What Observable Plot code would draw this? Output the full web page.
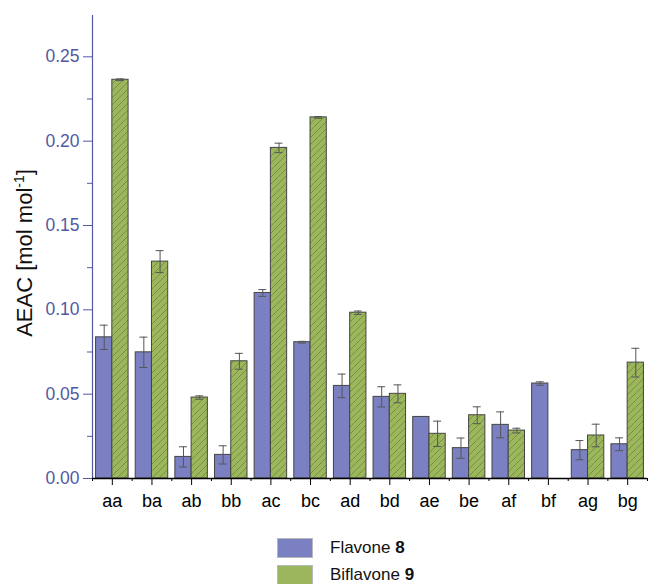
<!DOCTYPE html>
<html>
<head>
<meta charset="utf-8">
<script src="https://cdn.jsdelivr.net/npm/d3@7"></script>
<script src="https://cdn.jsdelivr.net/npm/@observablehq/plot@0.6"></script>
<style>
  html, body { margin: 0; padding: 0; background: #fff; }
  body { width: 648px; height: 584px; overflow: hidden; position: relative; font-family: "Liberation Sans", Arial, sans-serif; }
  #legend { position: absolute; left: 277px; top: 534px; font-size: 17px; color: #111; }
  .row { display: flex; align-items: center; height: 27px; }
  .sw { width: 36px; height: 20px; margin-right: 17px; border: 1px solid #b8b8b8; box-sizing: border-box; }
</style>
</head>
<body>
<div id="chart"></div>
<div id="legend">
  <div class="row"><div class="sw" style="background:#7b80c3"></div><span>Flavone <b>8</b></span></div>
  <div class="row"><div class="sw" style="background:#9bb65c"></div><span>Biflavone <b>9</b></span></div>
</div>
<script>
const categories = ["aa","ba","ab","bb","ac","bc","ad","bd","ae","be","af","bf","ag","bg"];
const flavone    = [0.0837,0.0748,0.0128,0.0140,0.1100,0.0808,0.0549,0.0484,0.0365,0.0180,0.0318,0.0563,0.0168,0.0203];
const flavoneErr = [0.0072,0.0090,0.0060,0.0054,0.0020,0.0005,0.0070,0.0060,0.0000,0.0060,0.0077,0.0010,0.0057,0.0038];
const biflavone    = [0.2364,0.1286,0.0480,0.0695,0.1960,0.2141,0.0983,0.0502,0.0265,0.0375,0.0284,null,0.0255,0.0687];
const biflavoneErr = [0.0005,0.0065,0.0010,0.0047,0.0028,0.0005,0.0010,0.0053,0.0075,0.0050,0.0014,null,0.0067,0.0085];
const yMajor = [0, 0.05, 0.10, 0.15, 0.20, 0.25];
const yMinor = [0.025, 0.075, 0.125, 0.175, 0.225];

const blue = "#5259a2";
const flavColor = "#7b80c3";
const bifColor = "#9bb65c";
const half = 0.41;

const rows = [];
categories.forEach((c, i) => {
  rows.push({i, cat: c, s: 0, v: flavone[i], e: flavoneErr[i]});
  if (biflavone[i] != null) rows.push({i, cat: c, s: 1, v: biflavone[i], e: biflavoneErr[i]});
});
const center = d => d.i + (d.s === 0 ? -half / 2 : half / 2);
const errRows = rows.filter(d => d.e > 0);

const svg = Plot.plot({
  width: 648,
  height: 520,
  marginLeft: 92,
  marginRight: 1,
  marginTop: 15,
  marginBottom: 42,
  style: {fontFamily: "Liberation Sans, Arial, sans-serif", fontSize: "17px", background: "white"},
  x: {type: "linear", domain: [-0.5, 13.5], axis: null},
  y: {domain: [0, 0.2745], axis: null},
  marks: [
    Plot.rectY(rows.filter(d => d.s === 0), {x1: d => d.i - half, x2: d => d.i, y: "v", fill: flavColor, stroke: "#444", strokeWidth: 1}),
    Plot.rectY(rows.filter(d => d.s === 1), {x1: d => d.i, x2: d => d.i + half, y: "v", fill: "url(#hatch)", stroke: "#444", strokeWidth: 1}),
    Plot.ruleX(errRows, {x: center, y1: d => d.v - d.e, y2: d => d.v + d.e, stroke: "#555", strokeWidth: 1}),
    Plot.ruleY(errRows, {x1: d => center(d) - 0.1, x2: d => center(d) + 0.1, y: d => d.v + d.e, stroke: "#555", strokeWidth: 1}),
    Plot.ruleY(errRows, {x1: d => center(d) - 0.1, x2: d => center(d) + 0.1, y: d => d.v - d.e, stroke: "#555", strokeWidth: 1}),
    Plot.axisY({ticks: yMajor, tickFormat: d3.format(".2f"), tickSize: 9, tickPadding: 4, color: blue, fontSize: 17.5, label: null}),
    Plot.axisY({ticks: yMinor, tickSize: 5, text: null, color: blue, label: null}),
    Plot.ruleX([-0.5], {stroke: blue, strokeWidth: 1.2}),
    Plot.axisX({ticks: d3.range(14), tickFormat: i => categories[i], tickSize: 7, tickPadding: 9, fontSize: 18, color: "#000", label: null}),
    Plot.axisX({ticks: d3.range(-0.5, 14, 1), tickSize: 3, text: null, color: "#000", label: null}),
    Plot.ruleY([0], {stroke: "#000", strokeWidth: 1.5})
  ]
});

const s = d3.select(svg);
const defs = s.insert("defs", ":first-child");
const pat = defs.append("pattern").attr("id", "hatch").attr("patternUnits", "userSpaceOnUse").attr("width", 7).attr("height", 7);
pat.append("rect").attr("width", 7).attr("height", 7).attr("fill", bifColor);
pat.append("path").attr("d", "M0,7L7,0M-1.5,1.5L1.5,-1.5M5.5,8.5L8.5,5.5").attr("stroke", "#6a8534").attr("stroke-width", 0.75).attr("fill", "none");

const lab = s.append("text")
  .attr("transform", "translate(32,253) rotate(-90)")
  .attr("text-anchor", "middle")
  .attr("font-size", 22)
  .attr("fill", "#111");
lab.append("tspan").text("AEAC [mol mol");
lab.append("tspan").attr("dy", -8).attr("font-size", 14).text("-1");
lab.append("tspan").attr("dy", 8).text("]");

document.getElementById("chart").appendChild(svg);
</script>
</body>
</html>
